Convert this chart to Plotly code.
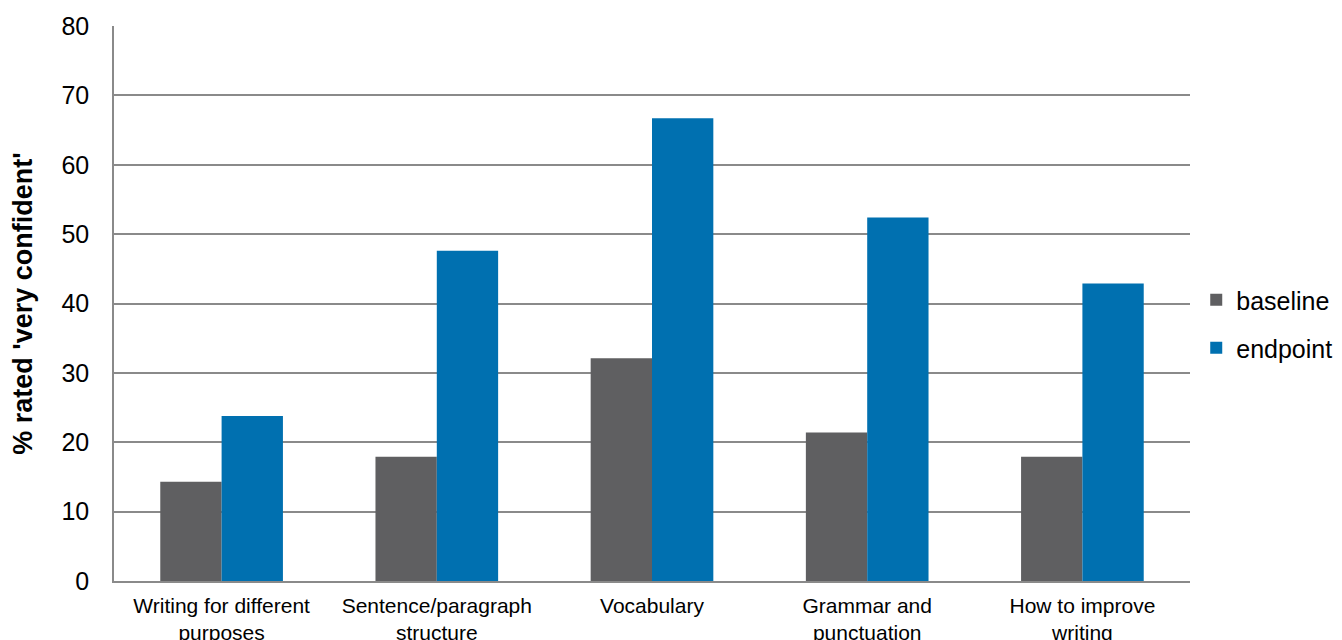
import plotly.graph_objects as go

categories = ["Writing for different<br>purposes", "Sentence/paragraph<br>structure", "Vocabulary",
              "Grammar and<br>punctuation", "How to improve<br>writing"]
baseline = [14.3, 17.9, 32.1, 21.4, 17.9]
endpoint = [23.8, 47.6, 66.7, 52.4, 42.9]
y_ticks = [0, 10, 20, 30, 40, 50, 60, 70, 80]

fig = go.Figure()
fig.add_trace(go.Bar(name="baseline", x=categories, y=baseline, marker_color="#5f5f61",
                     marker_line_width=0, legend="legend"))
fig.add_trace(go.Bar(name="endpoint", x=categories, y=endpoint, marker_color="#0070b0",
                     marker_line_width=0, legend="legend2"))

plot_h = 640 - 18 - 67
legend_common = dict(xanchor="left", yanchor="middle", font=dict(size=25), itemwidth=30,
                     bgcolor="rgba(0,0,0,0)")
fig.update_layout(
    width=1342, height=640,
    margin=dict(l=106, r=160, t=18, b=67, autoexpand=False),
    plot_bgcolor="white", paper_bgcolor="white",
    barmode="group", bargap=0.43, bargroupgap=0,
    font=dict(family="Liberation Sans, Arial, sans-serif", color="#000000"),
    legend=dict(x=1.0058, y=1 - (300 - 26) / plot_h, **legend_common),
    legend2=dict(x=1.0058, y=1 - (348 - 26) / plot_h, **legend_common),
    showlegend=True,
)
fig.update_yaxes(range=[0, 80], tickvals=y_ticks, showgrid=True, gridcolor="#8a8a8a", gridwidth=1.5,
                 showline=True, linecolor="#8a8a8a", linewidth=1.5, zeroline=False, automargin=False,
                 tickfont=dict(size=25), ticklabelstandoff=18,
                 title=dict(text="<b>% rated 'very confident'</b>", font=dict(size=27), standoff=22))
fig.update_xaxes(showline=True, linecolor="#8a8a8a", linewidth=1.5, tickfont=dict(size=21),
                 ticks="", ticklabelstandoff=5, automargin=False)

fig.write_html("out.html")
